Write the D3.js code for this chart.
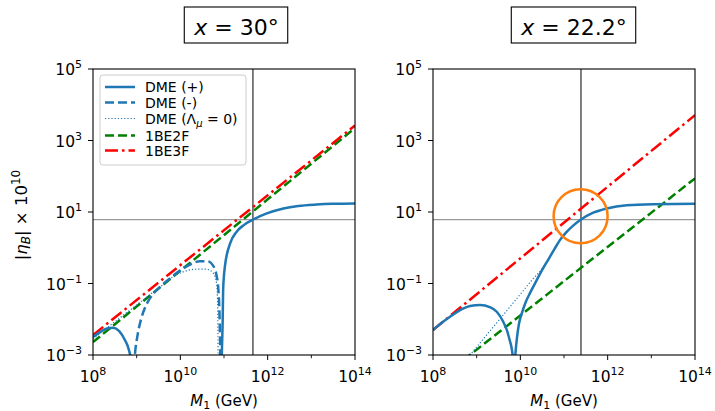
<!DOCTYPE html>
<html>
<head>
<meta charset="utf-8">
<script src="https://cdn.jsdelivr.net/npm/d3@7"></script>
<style>
  html, body { margin: 0; padding: 0; background: #fff; }
  svg { display: block; font-family: "DejaVu Sans", sans-serif; }
</style>
</head>
<body>
<svg id="chart" width="715" height="411"></svg>
<script>
// Axis decades (log10 exponents)
const xMajorExp = [8, 10, 12, 14];
const xMinorExp = [9, 11, 13];
const yMajorExp = [-3, -1, 1, 3, 5];

// Panel titles (mixing angle)
const panelTitles = ["30°", "22.2°"];

// Legend entries
const legendLabels = ["DME (+)", "DME (-)", "DME (Λμ = 0)", "1BE2F", "1BE3F"];

// Observed baryon asymmetry |η_B| × 10^10 and reference masses M1 (GeV)
const observedEta = 6.1;
const referenceM = [4.6e11, 2.45e11];
// Highlighted point on the right panel (M1, |η_B|×10^10)
const highlightPoint = [2.4e11, 7.6];

// Series as [log10 M1, log10 |η_B|×10^10]
// Left panel (x = 30°)
const leftDmePlusLow = [[8, -2.50], [8.16, -2.36], [8.32, -2.26], [8.46, -2.24], [8.60, -2.33],
  [8.73, -2.58], [8.82, -2.85], [8.86, -3.1], [8.885, -3.7]];
const leftDmeMinus = [[8.925, -3.7], [8.96, -3.0], [9.02, -2.45], [9.10, -2.0], [9.20, -1.65],
  [9.31, -1.40], [9.53, -1.10], [9.76, -0.86], [9.99, -0.64], [10.22, -0.47], [10.45, -0.38],
  [10.63, -0.38], [10.75, -0.50], [10.83, -0.78], [10.87, -1.15], [10.90, -2.0], [10.915, -3.0], [10.92, -3.7]];
const leftDmePlusHigh = [[10.94, -3.7], [10.95, -3.0], [10.97, -2.02], [10.98, -1.18], [11.02, -0.53],
  [11.14, 0.12], [11.29, 0.45], [11.46, 0.64], [11.67, 0.79], [11.98, 0.96], [12.36, 1.10],
  [12.7, 1.17], [13.12, 1.21], [13.5, 1.23], [14, 1.24]];
const leftDmeNoLambda = [[8, -2.55], [8.5, -2.07], [9, -1.6], [9.5, -1.13], [9.9, -0.76], [10.15, -0.64],
  [10.37, -0.60], [10.60, -0.60], [10.76, -0.72], [10.83, -1.0], [10.855, -1.65], [10.865, -3.0], [10.87, -3.7]];
const left1BE2F = [[8, -2.64], [14, 3.35]];
const left1BE3F = [[8, -2.44], [14, 3.42]];

// Right panel (x = 22.2°)
const rightDmePlus = [[8, -2.30], [8.2, -2.10], [8.39, -1.93], [8.6, -1.76], [8.85, -1.63], [9.08, -1.60],
  [9.3, -1.66], [9.46, -1.79], [9.6, -2.05], [9.69, -2.30], [9.76, -2.6], [9.80, -2.80], [9.83, -3.1],
  [9.855, -3.7], [9.88, -3.1], [9.92, -2.55], [9.97, -2.12], [10.03, -1.85], [10.12, -1.53],
  [10.22, -1.27], [10.37, -0.92], [10.5, -0.62], [10.64, -0.33], [10.78, -0.04],
  [10.91, 0.22], [11.05, 0.43], [11.21, 0.62], [11.39, 0.79], [11.67, 0.98], [11.98, 1.10],
  [12.44, 1.19], [13.04, 1.22], [14, 1.23]];
const rightDmeNoLambda = [[8.75, -3.15], [8.85, -3.0], [9.2, -2.48], [9.5, -2.04], [9.9, -1.45], [10.27, -0.90],
  [10.5, -0.58], [10.64, -0.33], [10.78, -0.04], [10.91, 0.22], [11.05, 0.43], [11.21, 0.62], [11.39, 0.79],
  [11.67, 0.98], [11.98, 1.10], [12.44, 1.19], [13.04, 1.22], [14, 1.23]];
const right1BE2F = [[8, -3.81], [14, 1.94]];
const right1BE3F = [[8, -2.30], [14, 3.71]];

const styles = {
  plus:   { color: "#1f77b4", width: 2.5, dash: null },
  minus:  { color: "#1f77b4", width: 2.5, dash: "9,4" },
  dotted: { color: "#1f77b4", width: 1.2, dash: "1.2,2" },
  be2f:   { color: "#008000", width: 2.5, dash: "9,4" },
  be3f:   { color: "#ff0000", width: 2.5, dash: "13,4,2.5,4" }
};

const panels = [
  { left: 93, right: 355, titleX: 236.5, title: panelTitles[0], refM: referenceM[0], showYLabel: true,
    series: [
      [left1BE2F, "be2f", false], [left1BE3F, "be3f", false],
      [leftDmeNoLambda, "dotted", true], [leftDmeMinus, "minus", true],
      [leftDmePlusLow, "plus", true], [leftDmePlusHigh, "plus", true]
    ], legend: true, highlight: null },
  { left: 433, right: 695, titleX: 574, title: panelTitles[1], refM: referenceM[1], showYLabel: false,
    series: [
      [right1BE2F, "be2f", false], [right1BE3F, "be3f", false],
      [rightDmeNoLambda, "dotted", true], [rightDmePlus, "plus", true]
    ], legend: false, highlight: highlightPoint }
];

const plotTop = 69, plotBottom = 355;
const svg = d3.select("#chart");

function supLabel(sel, exp) {
  sel.append("tspan").text("10");
  sel.append("tspan").attr("dy", -7).attr("font-size", 11)
    .text(exp < 0 ? "\u2212" + Math.abs(exp) : String(exp));
}

panels.forEach((p, i) => {
  const xs = d3.scaleLog().domain([1e8, 1e14]).range([p.left, p.right]);
  const ys = d3.scaleLog().domain([1e-3, 1e5]).range([plotBottom, plotTop]);
  const g = svg.append("g");

  const clipId = "clip" + i;
  svg.append("defs").append("clipPath").attr("id", clipId)
    .append("rect").attr("x", p.left).attr("y", plotTop)
    .attr("width", p.right - p.left).attr("height", plotBottom - plotTop);

  const plot = g.append("g").attr("clip-path", `url(#${clipId})`);

  // Observed asymmetry and reference mass
  plot.append("line")
    .attr("x1", p.left).attr("x2", p.right)
    .attr("y1", ys(observedEta)).attr("y2", ys(observedEta))
    .attr("stroke", "#999").attr("stroke-width", 1.2);
  plot.append("line")
    .attr("x1", xs(p.refM)).attr("x2", xs(p.refM))
    .attr("y1", plotTop).attr("y2", plotBottom)
    .attr("stroke", "#000").attr("stroke-width", 1);

  // Curves
  p.series.forEach(([data, key, smooth]) => {
    const st = styles[key];
    const line = d3.line()
      .x(d => xs(Math.pow(10, d[0])))
      .y(d => ys(Math.pow(10, d[1])))
      .curve(smooth ? d3.curveMonotoneX : d3.curveLinear);
    plot.append("path").datum(data)
      .attr("d", line)
      .attr("fill", "none")
      .attr("stroke", st.color)
      .attr("stroke-width", st.width)
      .attr("stroke-dasharray", st.dash)
      .attr("stroke-linejoin", "round");
  });

  if (p.highlight) {
    plot.append("circle")
      .attr("cx", xs(p.highlight[0])).attr("cy", ys(p.highlight[1]))
      .attr("r", 27)
      .attr("fill", "none").attr("stroke", "#ff7f0e").attr("stroke-width", 2.5);
  }

  // Frame
  g.append("rect").attr("x", p.left).attr("y", plotTop)
    .attr("width", p.right - p.left).attr("height", plotBottom - plotTop)
    .attr("fill", "none").attr("stroke", "#000").attr("stroke-width", 1.1);

  // X ticks
  xMajorExp.forEach(e => {
    const x = xs(Math.pow(10, e));
    g.append("line").attr("x1", x).attr("x2", x).attr("y1", plotBottom).attr("y2", plotBottom + 5)
      .attr("stroke", "#000").attr("stroke-width", 1);
    const t = g.append("text").attr("x", x).attr("y", 382)
      .attr("text-anchor", "middle").attr("font-size", 15.5).attr("fill", "#000");
    supLabel(t, e);
  });
  xMinorExp.forEach(e => {
    const x = xs(Math.pow(10, e));
    g.append("line").attr("x1", x).attr("x2", x).attr("y1", plotBottom).attr("y2", plotBottom + 3.2)
      .attr("stroke", "#000").attr("stroke-width", 0.9);
  });

  // Y ticks
  yMajorExp.forEach(e => {
    const y = ys(Math.pow(10, e));
    g.append("line").attr("x1", p.left - 5).attr("x2", p.left).attr("y1", y).attr("y2", y)
      .attr("stroke", "#000").attr("stroke-width", 1);
    const t = g.append("text").attr("x", p.left - 11).attr("y", y + 6)
      .attr("text-anchor", "end").attr("font-size", 15.5).attr("fill", "#000");
    supLabel(t, e);
  });

  // X label
  const xl = g.append("text").attr("x", (p.left + p.right) / 2).attr("y", 406)
    .attr("text-anchor", "middle").attr("font-size", 15).attr("fill", "#000");
  xl.append("tspan").attr("font-style", "italic").text("M");
  xl.append("tspan").attr("font-size", 11).attr("dy", 3).text("1");
  xl.append("tspan").attr("dy", -3).text(" (GeV)");

  // Title in a box
  const tt = g.append("text").attr("x", p.titleX).attr("y", 35)
    .attr("text-anchor", "middle").attr("font-size", 22).attr("fill", "#000");
  tt.append("tspan").attr("font-style", "italic").text("x");
  tt.append("tspan").text(" = " + p.title);
  const bb = tt.node().getBBox();
  g.append("rect").attr("x", bb.x - 9).attr("y", 7)
    .attr("width", bb.width + 18).attr("height", 36)
    .attr("fill", "none").attr("stroke", "#000").attr("stroke-width", 1.1);

  if (p.showYLabel) {
    const yl = g.append("text")
      .attr("transform", `translate(27,${(plotTop + plotBottom) / 2 + 3}) rotate(-90)`)
      .attr("text-anchor", "middle").attr("font-size", 16.5).attr("fill", "#000");
    yl.append("tspan").text("|");
    yl.append("tspan").attr("font-style", "italic").text("η");
    yl.append("tspan").attr("font-style", "italic").attr("font-size", 12).attr("dy", 3).text("B");
    yl.append("tspan").attr("dy", -3).text("| × 10");
    yl.append("tspan").attr("font-size", 12).attr("dy", -7).text("10");
  }

  if (p.legend) {
    const lg = g.append("g");
    lg.append("rect").attr("x", 100).attr("y", 75).attr("width", 146).attr("height", 90)
      .attr("rx", 3).attr("fill", "#fff").attr("fill-opacity", 0.8)
      .attr("stroke", "#ccc").attr("stroke-width", 1);
    const rows = [87, 102.5, 118.5, 135.5, 150.5];
    const keys = ["plus", "minus", "dotted", "be2f", "be3f"];
    keys.forEach((k, j) => {
      const st = styles[k];
      lg.append("line").attr("x1", 105).attr("x2", 135).attr("y1", rows[j]).attr("y2", rows[j])
        .attr("stroke", st.color).attr("stroke-width", st.width)
        .attr("stroke-dasharray", st.dash);
      const t = lg.append("text").attr("x", 145).attr("y", rows[j] + 5)
        .attr("font-size", 14).attr("fill", "#000");
      if (k === "dotted") {
        t.append("tspan").text("DME (Λ");
        t.append("tspan").attr("font-style", "italic").attr("font-size", 10).attr("dy", 3).text("μ");
        t.append("tspan").attr("dy", -3).text(" = 0)");
      } else {
        t.text(legendLabels[j]);
      }
    });
  }
});
</script>
</body>
</html>
